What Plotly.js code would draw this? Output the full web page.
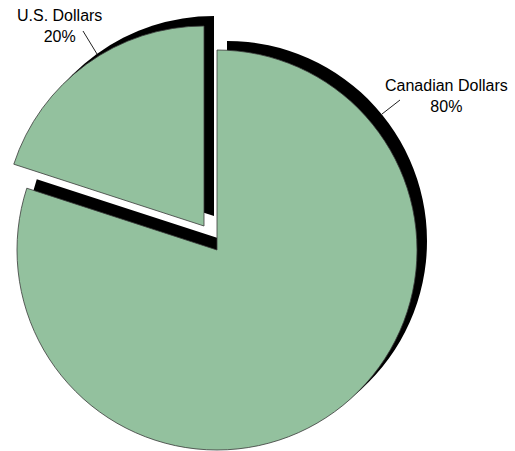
<!DOCTYPE html>
<html>
<head>
<meta charset="utf-8">
<script src="https://cdn.plot.ly/plotly-3.0.1.min.js"></script>
<style>html,body{margin:0;padding:0;background:#fff;overflow:hidden}#chart{width:515px;height:451px}</style>
</head>
<body>
<div id="chart"></div>
<script>
// Data
const categories = ["Canadian Dollars", "U.S. Dollars"];
const shares = [80, 20];
const shareLabels = ["80%", "20%"];

const W = 515, H = 451;
const green = "#93c19e";
const outline = "#3a3a3a";

// helper: domain for a pie of radius r centred at pixel (cx, cy)
function dom(cx, cy, r) {
  return {x: [(cx - r) / W, (cx + r) / W], y: [1 - (cy + r) / H, 1 - (cy - r) / H]};
}
const R = 200;

function pie(colors, lineColors, lineWidth, domain) {
  return {
    type: "pie",
    labels: categories,
    values: shares,
    sort: false,
    direction: "clockwise",
    rotation: 0,
    textinfo: "none",
    hoverinfo: "skip",
    showlegend: false,
    domain: domain,
    marker: {colors: colors, line: {color: lineColors, width: lineWidth}}
  };
}

const data = [
  // shadows
  pie(["#000", "rgba(0,0,0,0)"], ["rgba(0,0,0,0)", "rgba(0,0,0,0)"], 0, dom(227, 241, R)),
  pie(["rgba(0,0,0,0)", "#000"], ["rgba(0,0,0,0)", "rgba(0,0,0,0)"], 0, dom(214, 216, R)),
  // faces
  pie([green, "rgba(0,0,0,0)"], [outline, "rgba(0,0,0,0)"], 0.8, dom(217, 250, R)),
  pie(["rgba(0,0,0,0)", green], ["rgba(0,0,0,0)", outline], 0.8, dom(204, 226, R))
];

function px(x) { return x / W; }
function py(y) { return 1 - y / H; }

const layout = {
  width: W, height: H,
  margin: {l: 0, r: 0, t: 0, b: 0},
  paper_bgcolor: "#fff",
  font: {family: "Liberation Sans, Arial, sans-serif", size: 16, color: "#000"},
  annotations: [
    {text: categories[0] + "<br>" + shareLabels[0], xref: "paper", yref: "paper",
     x: px(446), y: py(96), xanchor: "center", yanchor: "middle", showarrow: false, align: "center"},
    {text: categories[1] + "<br>" + shareLabels[1], xref: "paper", yref: "paper",
     x: px(59), y: py(26), xanchor: "center", yanchor: "middle", showarrow: false, align: "center"}
  ],
  shapes: [
    {type: "line", xref: "paper", yref: "paper", x0: px(400), y0: py(100), x1: px(382), y1: py(114),
     line: {color: "#222", width: 1}},
    {type: "line", xref: "paper", yref: "paper", x0: px(83), y0: py(31), x1: px(97), y1: py(54),
     line: {color: "#222", width: 1}}
  ]
};

Plotly.newPlot("chart", data, layout, {displayModeBar: false, staticPlot: true});
</script>
</body>
</html>
